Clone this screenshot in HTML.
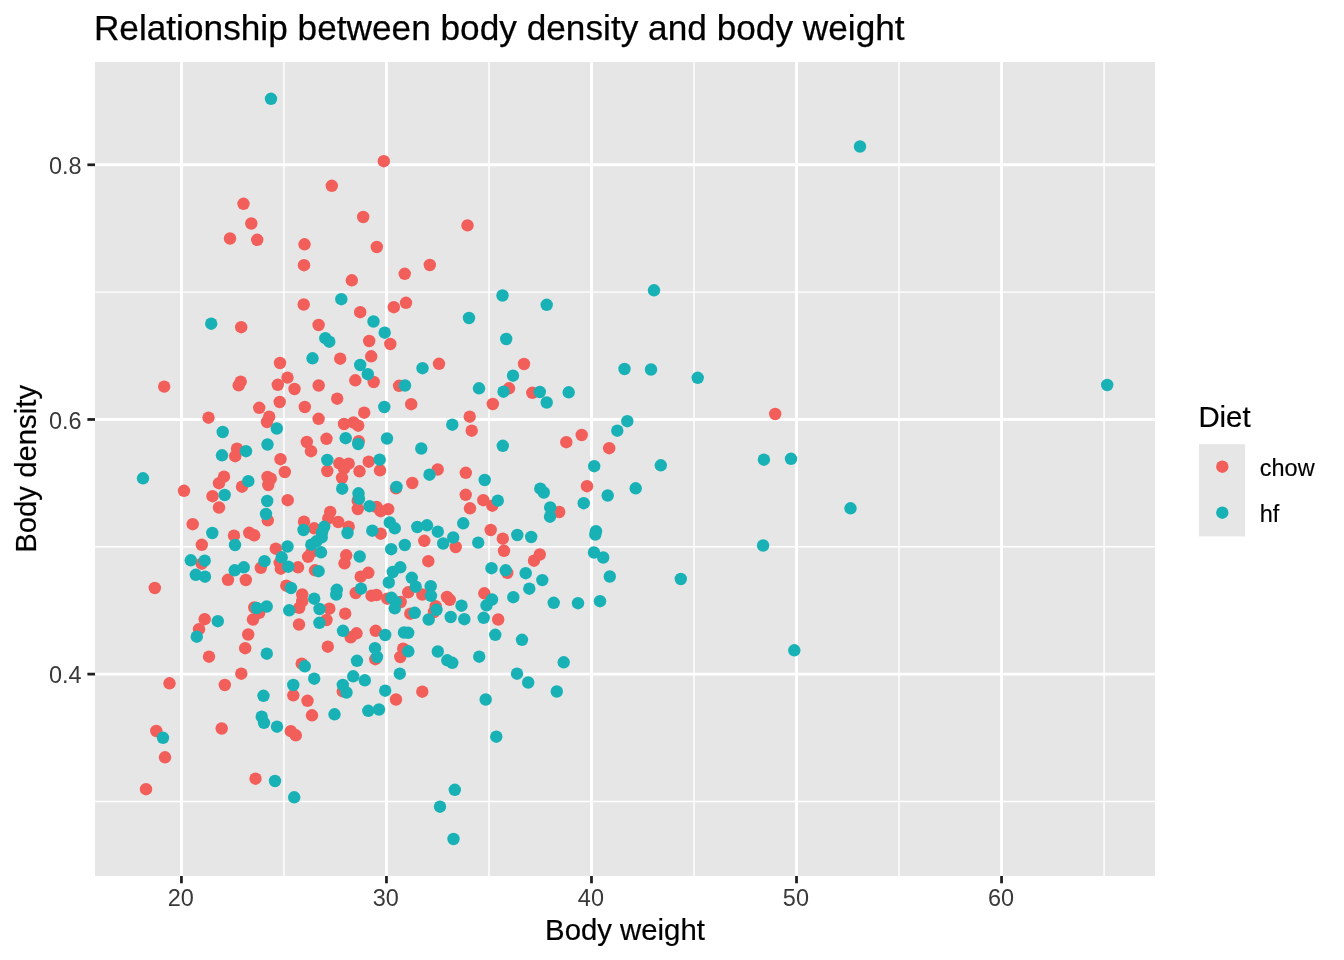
<!DOCTYPE html>
<html lang="en"><head><meta charset="utf-8"><title>Relationship between body density and body weight</title>
<style>
html,body{margin:0;padding:0;background:#fff;}
body{width:1344px;height:960px;overflow:hidden;}
svg{display:block;font-family:"Liberation Sans",Arial,Helvetica,sans-serif;}
.ax{font-size:23.47px;fill:#393939;}
.at{font-size:29.33px;fill:#000;stroke:#000;stroke-width:0.2px;}
.ti{font-size:35.2px;fill:#000;letter-spacing:0.018px;stroke:#000;stroke-width:0.25px;}
.lt{font-size:29.33px;fill:#000;stroke:#000;stroke-width:0.2px;}
.ll{font-size:23.47px;fill:#000;stroke:#000;stroke-width:0.15px;}
</style></head><body>
<svg width="1344" height="960" viewBox="0 0 1344 960">
<rect width="1344" height="960" fill="#fff"/>
<rect x="95.0" y="62.0" width="1060.0" height="814.0" fill="#E6E6E6"/>
<g stroke="#FFFFFF" stroke-width="1.45" fill="none">
<line x1="283.94" x2="283.94" y1="62.0" y2="876.0"/>
<line x1="488.98" x2="488.98" y1="62.0" y2="876.0"/>
<line x1="694.01" x2="694.01" y1="62.0" y2="876.0"/>
<line x1="899.04" x2="899.04" y1="62.0" y2="876.0"/>
<line x1="1104.07" x2="1104.07" y1="62.0" y2="876.0"/>
<line y1="801.45" y2="801.45" x1="95.0" x2="1155.0"/>
<line y1="546.79" y2="546.79" x1="95.0" x2="1155.0"/>
<line y1="292.13" y2="292.13" x1="95.0" x2="1155.0"/>
</g>
<g stroke="#FFFFFF" stroke-width="2.9" fill="none">
<line x1="181.43" x2="181.43" y1="62.0" y2="876.0"/>
<line x1="386.46" x2="386.46" y1="62.0" y2="876.0"/>
<line x1="591.49" x2="591.49" y1="62.0" y2="876.0"/>
<line x1="796.52" x2="796.52" y1="62.0" y2="876.0"/>
<line x1="1001.55" x2="1001.55" y1="62.0" y2="876.0"/>
<line y1="674.12" y2="674.12" x1="95.0" x2="1155.0"/>
<line y1="419.46" y2="419.46" x1="95.0" x2="1155.0"/>
<line y1="164.80" y2="164.80" x1="95.0" x2="1155.0"/>
</g>
<g fill="#F25E5A">
<circle cx="243.5" cy="203.8" r="6.2"/>
<circle cx="251.3" cy="223.5" r="6.2"/>
<circle cx="383.8" cy="161.2" r="6.2"/>
<circle cx="331.8" cy="185.8" r="6.2"/>
<circle cx="363.2" cy="217" r="6.2"/>
<circle cx="467.5" cy="225.4" r="6.2"/>
<circle cx="230" cy="238.5" r="6.2"/>
<circle cx="257.2" cy="239.8" r="6.2"/>
<circle cx="304.5" cy="244.3" r="6.2"/>
<circle cx="304" cy="265.2" r="6.2"/>
<circle cx="303.7" cy="304.5" r="6.2"/>
<circle cx="318.6" cy="325" r="6.2"/>
<circle cx="241.2" cy="327.2" r="6.2"/>
<circle cx="280" cy="363" r="6.2"/>
<circle cx="287.5" cy="377.6" r="6.2"/>
<circle cx="240.7" cy="381.7" r="6.2"/>
<circle cx="277.8" cy="384.8" r="6.2"/>
<circle cx="164.2" cy="386.6" r="6.2"/>
<circle cx="318.7" cy="385.5" r="6.2"/>
<circle cx="376.8" cy="247" r="6.2"/>
<circle cx="429.8" cy="265" r="6.2"/>
<circle cx="404.7" cy="273.8" r="6.2"/>
<circle cx="351.8" cy="280.3" r="6.2"/>
<circle cx="406" cy="302.8" r="6.2"/>
<circle cx="393.8" cy="307.2" r="6.2"/>
<circle cx="360.2" cy="312.2" r="6.2"/>
<circle cx="369.2" cy="341" r="6.2"/>
<circle cx="390.3" cy="344" r="6.2"/>
<circle cx="371.2" cy="356.3" r="6.2"/>
<circle cx="340.2" cy="358.7" r="6.2"/>
<circle cx="439" cy="363.8" r="6.2"/>
<circle cx="524" cy="364" r="6.2"/>
<circle cx="355.3" cy="380.3" r="6.2"/>
<circle cx="373.7" cy="382" r="6.2"/>
<circle cx="399.1" cy="385.8" r="6.2"/>
<circle cx="238.7" cy="385.3" r="6.2"/>
<circle cx="294.5" cy="389" r="6.2"/>
<circle cx="279.7" cy="402" r="6.2"/>
<circle cx="259.2" cy="407.8" r="6.2"/>
<circle cx="304.8" cy="407" r="6.2"/>
<circle cx="269.2" cy="416.7" r="6.2"/>
<circle cx="267" cy="422" r="6.2"/>
<circle cx="208.5" cy="417.7" r="6.2"/>
<circle cx="318.6" cy="418.8" r="6.2"/>
<circle cx="306.8" cy="442" r="6.2"/>
<circle cx="311" cy="451.2" r="6.2"/>
<circle cx="237" cy="448.7" r="6.2"/>
<circle cx="235.2" cy="456.2" r="6.2"/>
<circle cx="280.5" cy="459.2" r="6.2"/>
<circle cx="284.8" cy="472" r="6.2"/>
<circle cx="224" cy="476.7" r="6.2"/>
<circle cx="219" cy="483.2" r="6.2"/>
<circle cx="267.5" cy="477" r="6.2"/>
<circle cx="270.8" cy="478.7" r="6.2"/>
<circle cx="268.3" cy="485" r="6.2"/>
<circle cx="242" cy="486.7" r="6.2"/>
<circle cx="184" cy="490.8" r="6.2"/>
<circle cx="212.5" cy="496.2" r="6.2"/>
<circle cx="219" cy="507.5" r="6.2"/>
<circle cx="287.7" cy="500.2" r="6.2"/>
<circle cx="267.8" cy="520.3" r="6.2"/>
<circle cx="192.7" cy="524.2" r="6.2"/>
<circle cx="304" cy="521.7" r="6.2"/>
<circle cx="314.2" cy="528.3" r="6.2"/>
<circle cx="234" cy="535.7" r="6.2"/>
<circle cx="249.2" cy="532.8" r="6.2"/>
<circle cx="254.2" cy="535.3" r="6.2"/>
<circle cx="201.8" cy="544.8" r="6.2"/>
<circle cx="509" cy="388.3" r="6.2"/>
<circle cx="532.3" cy="392.8" r="6.2"/>
<circle cx="337.2" cy="398.7" r="6.2"/>
<circle cx="411.2" cy="404.2" r="6.2"/>
<circle cx="492.8" cy="404" r="6.2"/>
<circle cx="364.2" cy="412.7" r="6.2"/>
<circle cx="469.7" cy="416.7" r="6.2"/>
<circle cx="344" cy="424" r="6.2"/>
<circle cx="353.5" cy="422.5" r="6.2"/>
<circle cx="358.2" cy="425.7" r="6.2"/>
<circle cx="471.7" cy="430.7" r="6.2"/>
<circle cx="326.5" cy="438.8" r="6.2"/>
<circle cx="358.7" cy="441.2" r="6.2"/>
<circle cx="339.3" cy="463.3" r="6.2"/>
<circle cx="348.7" cy="463.7" r="6.2"/>
<circle cx="344" cy="468.7" r="6.2"/>
<circle cx="368.7" cy="461.7" r="6.2"/>
<circle cx="327.3" cy="471" r="6.2"/>
<circle cx="359.5" cy="471.3" r="6.2"/>
<circle cx="380" cy="470.3" r="6.2"/>
<circle cx="342" cy="477.8" r="6.2"/>
<circle cx="437.7" cy="469.5" r="6.2"/>
<circle cx="465.8" cy="472.8" r="6.2"/>
<circle cx="412.3" cy="483" r="6.2"/>
<circle cx="396" cy="488.3" r="6.2"/>
<circle cx="357.7" cy="500.7" r="6.2"/>
<circle cx="465.7" cy="494.8" r="6.2"/>
<circle cx="483.3" cy="500.2" r="6.2"/>
<circle cx="492.3" cy="505.7" r="6.2"/>
<circle cx="470" cy="508.3" r="6.2"/>
<circle cx="357.8" cy="509" r="6.2"/>
<circle cx="376.5" cy="507" r="6.2"/>
<circle cx="380.7" cy="511.2" r="6.2"/>
<circle cx="388.2" cy="509.2" r="6.2"/>
<circle cx="330.2" cy="512" r="6.2"/>
<circle cx="328.2" cy="518.7" r="6.2"/>
<circle cx="338.2" cy="522" r="6.2"/>
<circle cx="348.7" cy="526.7" r="6.2"/>
<circle cx="380.7" cy="533.7" r="6.2"/>
<circle cx="490.7" cy="530" r="6.2"/>
<circle cx="424.3" cy="540.8" r="6.2"/>
<circle cx="502.8" cy="538.7" r="6.2"/>
<circle cx="581.7" cy="435" r="6.2"/>
<circle cx="566.3" cy="442.2" r="6.2"/>
<circle cx="609.2" cy="448.2" r="6.2"/>
<circle cx="587" cy="486.2" r="6.2"/>
<circle cx="559.2" cy="512" r="6.2"/>
<circle cx="775.2" cy="414" r="6.2"/>
<circle cx="275.8" cy="548.7" r="6.2"/>
<circle cx="311.7" cy="552" r="6.2"/>
<circle cx="308.1" cy="556.8" r="6.2"/>
<circle cx="201.7" cy="563.7" r="6.2"/>
<circle cx="228" cy="579.8" r="6.2"/>
<circle cx="245.8" cy="580" r="6.2"/>
<circle cx="260.8" cy="567.8" r="6.2"/>
<circle cx="279.7" cy="562.8" r="6.2"/>
<circle cx="280.8" cy="568.7" r="6.2"/>
<circle cx="298" cy="567.3" r="6.2"/>
<circle cx="315" cy="570.3" r="6.2"/>
<circle cx="154.8" cy="588" r="6.2"/>
<circle cx="286.3" cy="585.7" r="6.2"/>
<circle cx="302.2" cy="594.5" r="6.2"/>
<circle cx="302.2" cy="601.2" r="6.2"/>
<circle cx="299.2" cy="607.8" r="6.2"/>
<circle cx="254.2" cy="607.5" r="6.2"/>
<circle cx="259.2" cy="612.8" r="6.2"/>
<circle cx="253" cy="619.5" r="6.2"/>
<circle cx="204.7" cy="619.2" r="6.2"/>
<circle cx="199" cy="629.2" r="6.2"/>
<circle cx="299" cy="624.5" r="6.2"/>
<circle cx="248.2" cy="634.5" r="6.2"/>
<circle cx="245.2" cy="648.2" r="6.2"/>
<circle cx="209" cy="656.7" r="6.2"/>
<circle cx="301.7" cy="663.7" r="6.2"/>
<circle cx="241.3" cy="673.7" r="6.2"/>
<circle cx="169.5" cy="683.3" r="6.2"/>
<circle cx="224.8" cy="685" r="6.2"/>
<circle cx="293.3" cy="695.3" r="6.2"/>
<circle cx="307.5" cy="700.8" r="6.2"/>
<circle cx="455.7" cy="547" r="6.2"/>
<circle cx="504" cy="550.8" r="6.2"/>
<circle cx="346.2" cy="555.3" r="6.2"/>
<circle cx="344.5" cy="563.3" r="6.2"/>
<circle cx="428.3" cy="561.2" r="6.2"/>
<circle cx="539.8" cy="554.5" r="6.2"/>
<circle cx="534" cy="560.7" r="6.2"/>
<circle cx="507.3" cy="572.8" r="6.2"/>
<circle cx="368.3" cy="572.8" r="6.2"/>
<circle cx="360.7" cy="576.7" r="6.2"/>
<circle cx="408.2" cy="592.3" r="6.2"/>
<circle cx="422.3" cy="594.5" r="6.2"/>
<circle cx="355.7" cy="593" r="6.2"/>
<circle cx="371.5" cy="595.7" r="6.2"/>
<circle cx="376.5" cy="595" r="6.2"/>
<circle cx="387.3" cy="598.7" r="6.2"/>
<circle cx="400.7" cy="602" r="6.2"/>
<circle cx="447" cy="597" r="6.2"/>
<circle cx="449.8" cy="599.8" r="6.2"/>
<circle cx="435.7" cy="606.2" r="6.2"/>
<circle cx="434" cy="612" r="6.2"/>
<circle cx="410.3" cy="613.7" r="6.2"/>
<circle cx="484.3" cy="593.3" r="6.2"/>
<circle cx="498.2" cy="619.5" r="6.2"/>
<circle cx="329.3" cy="608.7" r="6.2"/>
<circle cx="326.5" cy="620" r="6.2"/>
<circle cx="345.2" cy="613.7" r="6.2"/>
<circle cx="356.5" cy="633.3" r="6.2"/>
<circle cx="350.7" cy="637.3" r="6.2"/>
<circle cx="375.7" cy="630.8" r="6.2"/>
<circle cx="327.8" cy="646.7" r="6.2"/>
<circle cx="375.3" cy="659.2" r="6.2"/>
<circle cx="403.2" cy="648.7" r="6.2"/>
<circle cx="400.3" cy="657" r="6.2"/>
<circle cx="342.8" cy="691.4" r="6.2"/>
<circle cx="422.3" cy="691.7" r="6.2"/>
<circle cx="396" cy="699.5" r="6.2"/>
<circle cx="312" cy="715.3" r="6.2"/>
<circle cx="290.8" cy="731.2" r="6.2"/>
<circle cx="295.8" cy="735.3" r="6.2"/>
<circle cx="221.7" cy="728.5" r="6.2"/>
<circle cx="156.3" cy="731" r="6.2"/>
<circle cx="165" cy="757.3" r="6.2"/>
<circle cx="255.5" cy="778.7" r="6.2"/>
<circle cx="146" cy="789.2" r="6.2"/>
</g>
<g fill="#18B2B6">
<circle cx="271" cy="98.8" r="6.2"/>
<circle cx="860" cy="146.5" r="6.2"/>
<circle cx="211.2" cy="323.7" r="6.2"/>
<circle cx="312.5" cy="358.3" r="6.2"/>
<circle cx="341.3" cy="299.2" r="6.2"/>
<circle cx="502.5" cy="295.5" r="6.2"/>
<circle cx="373.5" cy="321.5" r="6.2"/>
<circle cx="469" cy="318" r="6.2"/>
<circle cx="384.7" cy="332.7" r="6.2"/>
<circle cx="325.3" cy="338.2" r="6.2"/>
<circle cx="329.3" cy="341.7" r="6.2"/>
<circle cx="506.2" cy="339" r="6.2"/>
<circle cx="360.2" cy="365" r="6.2"/>
<circle cx="422.5" cy="368.2" r="6.2"/>
<circle cx="367.8" cy="374.2" r="6.2"/>
<circle cx="513" cy="375.7" r="6.2"/>
<circle cx="405" cy="385.5" r="6.2"/>
<circle cx="546.7" cy="304.8" r="6.2"/>
<circle cx="654" cy="290.3" r="6.2"/>
<circle cx="624.5" cy="369" r="6.2"/>
<circle cx="651" cy="369.5" r="6.2"/>
<circle cx="697.7" cy="377.8" r="6.2"/>
<circle cx="276.8" cy="428.5" r="6.2"/>
<circle cx="222.7" cy="432" r="6.2"/>
<circle cx="267.5" cy="444.5" r="6.2"/>
<circle cx="246" cy="451.2" r="6.2"/>
<circle cx="222" cy="455.3" r="6.2"/>
<circle cx="143" cy="478.3" r="6.2"/>
<circle cx="248.3" cy="481.2" r="6.2"/>
<circle cx="224.7" cy="495" r="6.2"/>
<circle cx="267.2" cy="501" r="6.2"/>
<circle cx="266" cy="514" r="6.2"/>
<circle cx="303.5" cy="530" r="6.2"/>
<circle cx="212.3" cy="533" r="6.2"/>
<circle cx="235" cy="545" r="6.2"/>
<circle cx="287.5" cy="546.5" r="6.2"/>
<circle cx="479" cy="388.3" r="6.2"/>
<circle cx="503.5" cy="391.7" r="6.2"/>
<circle cx="539.8" cy="392" r="6.2"/>
<circle cx="384.3" cy="407" r="6.2"/>
<circle cx="452.3" cy="424.7" r="6.2"/>
<circle cx="345.7" cy="438.2" r="6.2"/>
<circle cx="358.2" cy="444" r="6.2"/>
<circle cx="387" cy="438.5" r="6.2"/>
<circle cx="421.3" cy="448.5" r="6.2"/>
<circle cx="502.8" cy="445.8" r="6.2"/>
<circle cx="327.3" cy="460" r="6.2"/>
<circle cx="379.7" cy="459.7" r="6.2"/>
<circle cx="429.5" cy="474.7" r="6.2"/>
<circle cx="484.7" cy="480" r="6.2"/>
<circle cx="396.5" cy="487" r="6.2"/>
<circle cx="342.2" cy="488.7" r="6.2"/>
<circle cx="358.5" cy="493.3" r="6.2"/>
<circle cx="359" cy="498.7" r="6.2"/>
<circle cx="497.8" cy="500.7" r="6.2"/>
<circle cx="369.5" cy="506.2" r="6.2"/>
<circle cx="324.2" cy="526.8" r="6.2"/>
<circle cx="322.0" cy="532.5" r="6.2"/>
<circle cx="321.7" cy="537.4" r="6.2"/>
<circle cx="316.4" cy="541.3" r="6.2"/>
<circle cx="347.5" cy="533" r="6.2"/>
<circle cx="372.3" cy="530.7" r="6.2"/>
<circle cx="389.8" cy="522.5" r="6.2"/>
<circle cx="394.8" cy="528.3" r="6.2"/>
<circle cx="417.3" cy="527" r="6.2"/>
<circle cx="427" cy="525.3" r="6.2"/>
<circle cx="437.8" cy="531.7" r="6.2"/>
<circle cx="463.2" cy="523.3" r="6.2"/>
<circle cx="453.2" cy="537.5" r="6.2"/>
<circle cx="443.2" cy="543.5" r="6.2"/>
<circle cx="404.8" cy="545" r="6.2"/>
<circle cx="478.2" cy="542.6" r="6.2"/>
<circle cx="517.3" cy="535" r="6.2"/>
<circle cx="531.2" cy="537" r="6.2"/>
<circle cx="568.7" cy="392.3" r="6.2"/>
<circle cx="546.7" cy="402.5" r="6.2"/>
<circle cx="627.3" cy="421.2" r="6.2"/>
<circle cx="617.3" cy="430.7" r="6.2"/>
<circle cx="594.2" cy="466.2" r="6.2"/>
<circle cx="660.8" cy="465.3" r="6.2"/>
<circle cx="763.9" cy="459.7" r="6.2"/>
<circle cx="635.7" cy="488.3" r="6.2"/>
<circle cx="607.7" cy="495.5" r="6.2"/>
<circle cx="540.3" cy="488.7" r="6.2"/>
<circle cx="543.8" cy="492.5" r="6.2"/>
<circle cx="583.7" cy="503.2" r="6.2"/>
<circle cx="550.2" cy="507.5" r="6.2"/>
<circle cx="550" cy="516.7" r="6.2"/>
<circle cx="596" cy="531.2" r="6.2"/>
<circle cx="595.3" cy="534.5" r="6.2"/>
<circle cx="763.1" cy="545.5" r="6.2"/>
<circle cx="791" cy="458.8" r="6.2"/>
<circle cx="850.5" cy="508.3" r="6.2"/>
<circle cx="1107.2" cy="385" r="6.2"/>
<circle cx="311.3" cy="544.7" r="6.2"/>
<circle cx="321" cy="552.3" r="6.2"/>
<circle cx="190.8" cy="560.3" r="6.2"/>
<circle cx="204.7" cy="560.7" r="6.2"/>
<circle cx="195.8" cy="574.8" r="6.2"/>
<circle cx="205" cy="576.7" r="6.2"/>
<circle cx="234.7" cy="570.3" r="6.2"/>
<circle cx="243.8" cy="567.3" r="6.2"/>
<circle cx="264.5" cy="561.2" r="6.2"/>
<circle cx="281.7" cy="557.3" r="6.2"/>
<circle cx="288.3" cy="566.7" r="6.2"/>
<circle cx="318.6" cy="571.2" r="6.2"/>
<circle cx="291" cy="588" r="6.2"/>
<circle cx="314.2" cy="598.7" r="6.2"/>
<circle cx="319.5" cy="609" r="6.2"/>
<circle cx="289.2" cy="610.3" r="6.2"/>
<circle cx="256.7" cy="608" r="6.2"/>
<circle cx="266.7" cy="606.5" r="6.2"/>
<circle cx="217.8" cy="621.2" r="6.2"/>
<circle cx="196.8" cy="636.7" r="6.2"/>
<circle cx="319.4" cy="622.8" r="6.2"/>
<circle cx="266.8" cy="653.7" r="6.2"/>
<circle cx="304.8" cy="666.3" r="6.2"/>
<circle cx="314.2" cy="678.7" r="6.2"/>
<circle cx="293.3" cy="685" r="6.2"/>
<circle cx="263.5" cy="695.8" r="6.2"/>
<circle cx="391.2" cy="549.2" r="6.2"/>
<circle cx="359.7" cy="556.5" r="6.2"/>
<circle cx="491.5" cy="568.2" r="6.2"/>
<circle cx="505.7" cy="570.3" r="6.2"/>
<circle cx="525.7" cy="573.2" r="6.2"/>
<circle cx="542.3" cy="580.1" r="6.2"/>
<circle cx="529.3" cy="588.7" r="6.2"/>
<circle cx="513.3" cy="597.2" r="6.2"/>
<circle cx="400.3" cy="567.3" r="6.2"/>
<circle cx="392.8" cy="572" r="6.2"/>
<circle cx="388.8" cy="582.5" r="6.2"/>
<circle cx="411.8" cy="577.8" r="6.2"/>
<circle cx="415.7" cy="586.7" r="6.2"/>
<circle cx="430.7" cy="586.2" r="6.2"/>
<circle cx="431" cy="595.8" r="6.2"/>
<circle cx="361" cy="588.7" r="6.2"/>
<circle cx="336.8" cy="589.8" r="6.2"/>
<circle cx="336.2" cy="594.5" r="6.2"/>
<circle cx="391.5" cy="597.8" r="6.2"/>
<circle cx="395.7" cy="602" r="6.2"/>
<circle cx="394.8" cy="608.3" r="6.2"/>
<circle cx="461.5" cy="605.7" r="6.2"/>
<circle cx="436.5" cy="609.8" r="6.2"/>
<circle cx="428.7" cy="619.5" r="6.2"/>
<circle cx="414.7" cy="612.8" r="6.2"/>
<circle cx="450.7" cy="617" r="6.2"/>
<circle cx="464.3" cy="619.2" r="6.2"/>
<circle cx="492" cy="599.5" r="6.2"/>
<circle cx="486.5" cy="605.3" r="6.2"/>
<circle cx="483.7" cy="617.8" r="6.2"/>
<circle cx="495.3" cy="634.8" r="6.2"/>
<circle cx="522" cy="639.8" r="6.2"/>
<circle cx="343" cy="630.8" r="6.2"/>
<circle cx="385.2" cy="635" r="6.2"/>
<circle cx="404" cy="632.5" r="6.2"/>
<circle cx="408.2" cy="632.8" r="6.2"/>
<circle cx="375" cy="648.2" r="6.2"/>
<circle cx="377" cy="657" r="6.2"/>
<circle cx="357" cy="660.8" r="6.2"/>
<circle cx="408.3" cy="651.3" r="6.2"/>
<circle cx="437.8" cy="651.5" r="6.2"/>
<circle cx="447.3" cy="660.3" r="6.2"/>
<circle cx="452.3" cy="662.8" r="6.2"/>
<circle cx="479.2" cy="656.7" r="6.2"/>
<circle cx="399.8" cy="673.7" r="6.2"/>
<circle cx="517" cy="673.7" r="6.2"/>
<circle cx="528.2" cy="682.5" r="6.2"/>
<circle cx="353.2" cy="676.3" r="6.2"/>
<circle cx="364.8" cy="680.3" r="6.2"/>
<circle cx="342.8" cy="685" r="6.2"/>
<circle cx="346.5" cy="692.5" r="6.2"/>
<circle cx="385.2" cy="690.7" r="6.2"/>
<circle cx="485.7" cy="699.5" r="6.2"/>
<circle cx="594" cy="552.5" r="6.2"/>
<circle cx="603.2" cy="557.5" r="6.2"/>
<circle cx="609.8" cy="576.5" r="6.2"/>
<circle cx="680.8" cy="579" r="6.2"/>
<circle cx="553.7" cy="602.8" r="6.2"/>
<circle cx="578" cy="603.2" r="6.2"/>
<circle cx="600" cy="601.2" r="6.2"/>
<circle cx="563.7" cy="662.3" r="6.2"/>
<circle cx="556.8" cy="691.5" r="6.2"/>
<circle cx="794.3" cy="650.3" r="6.2"/>
<circle cx="261.7" cy="716.7" r="6.2"/>
<circle cx="264" cy="722.8" r="6.2"/>
<circle cx="277" cy="726.7" r="6.2"/>
<circle cx="163" cy="737.8" r="6.2"/>
<circle cx="275" cy="781" r="6.2"/>
<circle cx="294.2" cy="797.3" r="6.2"/>
<circle cx="334.5" cy="714.3" r="6.2"/>
<circle cx="368.3" cy="710.8" r="6.2"/>
<circle cx="379" cy="709.5" r="6.2"/>
<circle cx="496.3" cy="736.7" r="6.2"/>
<circle cx="454.8" cy="789.8" r="6.2"/>
<circle cx="440" cy="806.7" r="6.2"/>
<circle cx="453.5" cy="839" r="6.2"/>
</g>
<g stroke="#1E1E1E" stroke-width="2.75" fill="none">
<line x1="181.43" x2="181.43" y1="876.0" y2="883.3"/>
<line x1="386.46" x2="386.46" y1="876.0" y2="883.3"/>
<line x1="591.49" x2="591.49" y1="876.0" y2="883.3"/>
<line x1="796.52" x2="796.52" y1="876.0" y2="883.3"/>
<line x1="1001.55" x2="1001.55" y1="876.0" y2="883.3"/>
<line y1="674.12" y2="674.12" x1="87.4" x2="95.0"/>
<line y1="419.46" y2="419.46" x1="87.4" x2="95.0"/>
<line y1="164.80" y2="164.80" x1="87.4" x2="95.0"/>
</g>
<text class="ax" text-anchor="middle" x="180.83" y="905.9">20</text>
<text class="ax" text-anchor="middle" x="385.86" y="905.9">30</text>
<text class="ax" text-anchor="middle" x="590.89" y="905.9">40</text>
<text class="ax" text-anchor="middle" x="795.92" y="905.9">50</text>
<text class="ax" text-anchor="middle" x="1000.95" y="905.9">60</text>
<text class="ax" text-anchor="end" x="81.6" y="683.22">0.4</text>
<text class="ax" text-anchor="end" x="81.6" y="428.56">0.6</text>
<text class="ax" text-anchor="end" x="81.6" y="173.90">0.8</text>
<text class="ti" x="93.9" y="40.0">Relationship between body density and body weight</text>
<text class="at" text-anchor="middle" x="625" y="940.0">Body weight</text>
<text class="at" text-anchor="middle" transform="translate(35.7,468.9) rotate(-90)">Body density</text>
<text class="lt" x="1198.4" y="427">Diet</text>
<rect x="1199" y="444.2" width="46.1" height="92.2" fill="#E6E6E6"/>
<circle cx="1222.3" cy="466.7" r="6.2" fill="#F25E5A"/>
<circle cx="1222.3" cy="512.7" r="6.2" fill="#18B2B6"/>
<text class="ll" x="1259.8" y="475.6">chow</text>
<text class="ll" x="1259.8" y="521.6">hf</text>
</svg></body></html>
